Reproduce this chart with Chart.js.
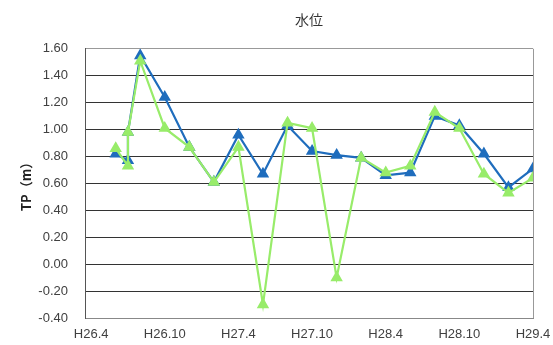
<!DOCTYPE html>
<html>
<head>
<meta charset="utf-8">
<script src="https://cdn.jsdelivr.net/npm/chart.js@4/dist/chart.umd.min.js"></script>
<style>
  html, body { margin: 0; padding: 0; background: #fff; }
  #wrap { width: 553px; height: 345px; }
</style>
</head>
<body>
<div id="wrap"><canvas id="waterChart"></canvas></div>
<script>
// Months counted from H26.4 (= 0).
var sampleMonths = [2, 3, 3, 4, 6, 8, 10, 12, 14, 16, 18, 20, 22, 24, 26, 28, 30, 32, 34, 36];
var blueLevels = [0.82, 0.77, 0.98, 1.55, 1.24, 0.87, 0.61, 0.96, 0.67, 1.03, 0.84, 0.81, 0.79, 0.66, 0.68, 1.10, 1.03, 0.82, 0.57, 0.71];
var greenLevels = [0.86, 0.73, 0.98, 1.51, 1.01, 0.87, 0.61, 0.87, -0.30, 1.05, 1.01, -0.10, 0.79, 0.68, 0.73, 1.13, 1.01, 0.67, 0.53, 0.64];
var tickMonths = [0, 6, 12, 18, 24, 30, 36];
var tickLabels = ["H26.4", "H26.10", "H27.4", "H27.10", "H28.4", "H28.10", "H29.4"];

function toPoints(values) {
  return values.map(function (v, i) {
    return { x: sampleMonths[i], y: v };
  });
}

// Grey frame on the right edge of the plot area.
var frameRight = {
  id: "frameRight",
  afterDraw: function (chart) {
    var a = chart.chartArea;
    var ctx = chart.ctx;
    ctx.save();
    ctx.strokeStyle = "#999";
    ctx.lineWidth = 1;
    ctx.beginPath();
    ctx.moveTo(Math.round(a.right) + 0.5, a.top);
    ctx.lineTo(Math.round(a.right) + 0.5, a.bottom);
    ctx.stroke();
    ctx.restore();
  },
};

var ctx = document.getElementById("waterChart").getContext("2d");
new Chart(ctx, {
  type: "line",
  data: {
    datasets: [
      {
        label: "水位2",
        data: toPoints(greenLevels),
        borderColor: "#98ec6a",
        backgroundColor: "#98ec6a",
        borderWidth: 2.2,
        pointStyle: "triangle",
        pointRadius: 5,
        tension: 0,
      },
      {
        label: "水位1",
        data: toPoints(blueLevels),
        borderColor: "#1f6dbd",
        backgroundColor: "#1f6dbd",
        borderWidth: 2.2,
        pointStyle: "triangle",
        pointRadius: 5,
        tension: 0,
      },
    ],
  },
  options: {
    responsive: true,
    maintainAspectRatio: false,
    animation: false,
    layout: { padding: { left: 0, right: 20, top: 0, bottom: 0 } },
    plugins: {
      legend: { display: false },
      tooltip: { enabled: false },
      title: {
        display: true,
        text: "水位",
        fullSize: false,
        color: "#333",
        font: { family: "'Noto Sans CJK JP', sans-serif", size: 14, weight: "normal" },
        padding: { top: 11, bottom: 21 },
      },
    },
    scales: {
      x: {
        type: "linear",
        min: -0.5,
        max: 36,
        grid: { display: false, drawTicks: false },
        border: { display: true, color: "#888" },
        afterBuildTicks: function (scale) {
          scale.ticks = tickMonths.map(function (m) {
            return { value: m };
          });
        },
        ticks: {
          autoSkip: false,
          maxRotation: 0,
          padding: 9,
          color: "#404040",
          font: { family: "'Liberation Sans', Arial, sans-serif", size: 13 },
          callback: function (value) {
            var i = tickMonths.indexOf(value);
            return i >= 0 ? tickLabels[i] : "";
          },
        },
        afterFit: function (scale) {
          scale.height = 27;
          scale.paddingLeft = 0;
          scale.paddingRight = 0;
        },
      },
      y: {
        min: -0.4,
        max: 1.6,
        grid: {
          drawTicks: false,
          lineWidth: 1,
          color: function (c) {
            if (c.tick && Math.abs(c.tick.value - 1.6) < 1e-6) return "#999";
            if (c.tick && Math.abs(c.tick.value + 0.4) < 1e-6) return "#777";
            return "#333";
          },
        },
        border: { display: true, color: "#555" },
        ticks: {
          stepSize: 0.2,
          padding: 17,
          color: "#404040",
          font: { family: "'Liberation Sans', Arial, sans-serif", size: 13 },
          callback: function (value) {
            return Number(value).toFixed(2);
          },
        },
        title: {
          display: true,
          text: "TP（m）",
          color: "#222",
          font: { family: "'Noto Sans CJK JP', sans-serif", size: 13, weight: "bold" },
          padding: { top: 18, bottom: 0 },
        },
        afterFit: function (scale) {
          scale.width = 85;
        },
      },
    },
  },
  plugins: [frameRight],
});
</script>
</body>
</html>
